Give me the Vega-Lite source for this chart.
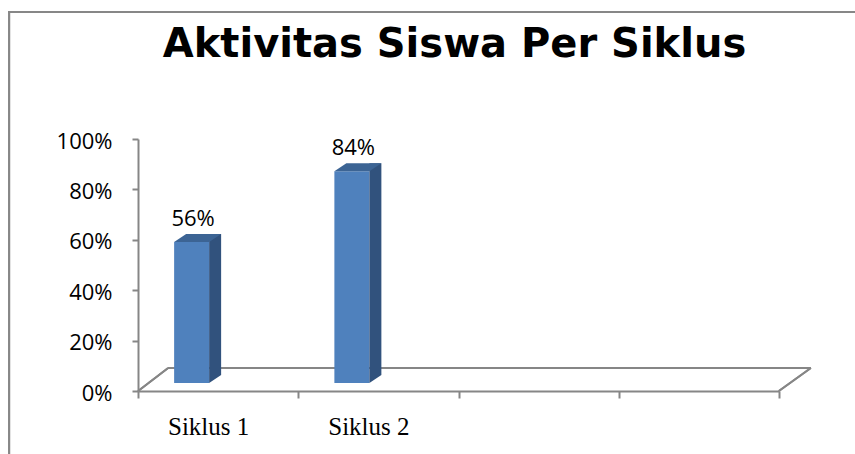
{
  "$schema": "https://vega.github.io/schema/vega-lite/v6.json",
  "autosize": "none",
  "width": 641,
  "height": 252,
  "padding": {"left": 138, "top": 139, "right": 76, "bottom": 63},
  "background": "white",
  "config": {"view": {"stroke": null}},
  "title": {
    "text": "Aktivitas Siswa Per Siklus",
    "font": "DejaVu Sans",
    "fontSize": 40,
    "fontWeight": "bold",
    "color": "black",
    "anchor": "middle",
    "baseline": "alphabetic",
    "dx": -4,
    "offset": -87
  },
  "data": {
    "values": [
      {"siklus": "Siklus 1", "nilai": 0.56},
      {"siklus": "Siklus 2", "nilai": 0.84}
    ]
  },
  "layer": [
    {
      "mark": {"type": "rule", "color": "#878787", "strokeWidth": 2, "xOffset": -210, "x2Offset": 200, "yOffset": -127},
      "encoding": {
        "x": {
          "datum": "Siklus 1",
          "type": "nominal",
          "scale": {"type": "band", "domain": ["Siklus 1", "Siklus 2", " ", "  "], "paddingInner": 0, "paddingOuter": 0},
          "axis": {"title": null, "labelAngle": 0, "tickBand": "extent", "tickSize": 7, "tickColor": "#868686", "tickWidth": 2, "domainColor": "#868686", "domainWidth": 2, "labelFont": "Liberation Serif", "labelFontSize": 25, "labelColor": "black", "labelPadding": 16, "labelOffset": -10}
        },
        "x2": {"datum": "  "},
        "y": {
          "datum": 1,
          "type": "quantitative",
          "scale": {"domain": [0, 1], "nice": false},
          "axis": {"title": null, "values": [0, 0.2, 0.4, 0.6, 0.8, 1], "format": ".0%", "grid": false, "tickSize": 6, "tickColor": "#868686", "tickWidth": 2, "domainColor": "#868686", "domainWidth": 2, "labelFont": "Open Sans", "labelFontSize": 22, "labelColor": "black", "labelPadding": 20, "labelOffset": 2}
        }
      }
    },
    {
      "mark": {"type": "rule", "color": "#878787", "strokeWidth": 2, "xOffset": -209, "yOffset": -128, "y2Offset": 80},
      "encoding": {
        "x": {"datum": "Siklus 1", "type": "nominal"},
        "y": {"datum": 1, "type": "quantitative"},
        "y2": {"datum": 0}
      }
    },
    {
      "mark": {"type": "rule", "color": "#868686", "strokeWidth": 2, "xOffset": -50, "x2Offset": 112, "yOffset": -23, "y2Offset": -23},
      "encoding": {
        "x": {"datum": "Siklus 1", "type": "nominal"},
        "x2": {"datum": "  "},
        "y": {"datum": 0, "type": "quantitative"}
      }
    },
    {
      "mark": {"type": "rule", "color": "#868686", "strokeWidth": 2, "xOffset": -80, "x2Offset": -50, "y2Offset": -23},
      "encoding": {
        "x": {"datum": "Siklus 1", "type": "nominal"},
        "x2": {"datum": "Siklus 1"},
        "y": {"datum": 0, "type": "quantitative"},
        "y2": {"datum": 0}
      }
    },
    {
      "mark": {"type": "rule", "color": "#868686", "strokeWidth": 2, "xOffset": 80, "x2Offset": 112, "y2Offset": -23},
      "encoding": {
        "x": {"datum": "  ", "type": "nominal"},
        "x2": {"datum": "  "},
        "y": {"datum": 0, "type": "quantitative"},
        "y2": {"datum": 0}
      }
    },
    {
      "mark": {"type": "bar", "width": 35, "xOffset": -26.5, "yOffset": -8, "y2Offset": -8, "color": "#4F81BD"},
      "encoding": {
        "x": {"field": "siklus", "type": "nominal", "sort": null},
        "y": {"field": "nilai", "type": "quantitative"},
        "y2": {"datum": 0}
      }
    },
    {
      "mark": {"type": "bar", "width": 12, "xOffset": -3, "yOffset": -16, "y2Offset": -16, "color": "#31527D"},
      "encoding": {
        "x": {"field": "siklus", "type": "nominal", "sort": null},
        "y": {"field": "nilai", "type": "quantitative"},
        "y2": {"datum": 0}
      }
    },
    {
      "mark": {"type": "point", "shape": "M-44,-8L-9,-8L3,-16L-32,-16Z", "size": 4, "filled": true, "fill": "#3C6494", "strokeWidth": 0, "opacity": 1},
      "encoding": {
        "x": {"field": "siklus", "type": "nominal", "sort": null},
        "y": {"field": "nilai", "type": "quantitative"}
      }
    },
    {
      "mark": {"type": "point", "shape": "M-9,-8L3,-16L-9,-16Z", "size": 4, "filled": true, "fill": "#31527D", "strokeWidth": 0, "opacity": 1},
      "encoding": {
        "x": {"field": "siklus", "type": "nominal", "sort": null},
        "y": {"datum": 0, "type": "quantitative"}
      }
    },
    {
      "mark": {"type": "text", "font": "Open Sans", "fontSize": 22, "color": "black", "baseline": "middle", "align": "center", "xOffset": -25, "yOffset": -31},
      "encoding": {
        "x": {"field": "siklus", "type": "nominal", "sort": null},
        "y": {"field": "nilai", "type": "quantitative"},
        "text": {"field": "nilai", "type": "quantitative", "format": ".0%"}
      }
    }
  ]
}
